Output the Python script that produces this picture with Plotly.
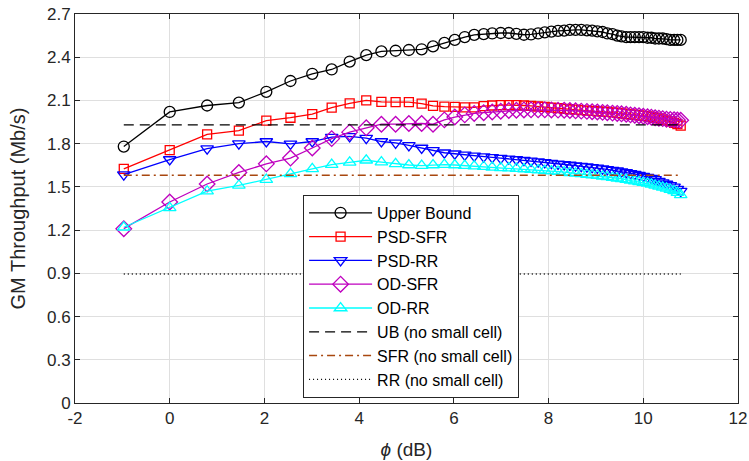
import plotly.graph_objects as go

# phi (dB) sample points
phi_db = [-0.97, 0.00, 0.79, 1.46, 2.04, 2.55, 3.01, 3.42, 3.80, 4.15,
          4.47, 4.77, 5.05, 5.32, 5.56, 5.80, 6.02, 6.23, 6.43, 6.63,
          6.81, 6.99, 7.16, 7.32, 7.48, 7.63, 7.78, 7.92, 8.06, 8.20,
          8.33, 8.45, 8.57, 8.69, 8.81, 8.92, 9.03, 9.14, 9.24, 9.35,
          9.45, 9.54, 9.64, 9.73, 9.82, 9.91, 10.00, 10.09, 10.17, 10.25,
          10.33, 10.41, 10.49, 10.57, 10.65, 10.72, 10.79]

upper_bound = [1.78, 2.02, 2.065, 2.085, 2.16, 2.235, 2.285, 2.315, 2.37, 2.415,
               2.44, 2.445, 2.45, 2.455, 2.475, 2.50, 2.52, 2.54, 2.555, 2.56,
               2.565, 2.568, 2.568, 2.562, 2.556, 2.558, 2.565, 2.572, 2.578, 2.583,
               2.585, 2.59, 2.59, 2.59, 2.587, 2.585, 2.58, 2.575, 2.565, 2.56,
               2.55, 2.545, 2.54, 2.54, 2.54, 2.54, 2.54, 2.535, 2.535, 2.53,
               2.53, 2.53, 2.525, 2.52, 2.52, 2.52, 2.52]

psd_sfr = [1.625, 1.755, 1.865, 1.89, 1.96, 1.98, 2.005, 2.05, 2.08, 2.10,
           2.09, 2.088, 2.088, 2.078, 2.062, 2.057, 2.055, 2.052, 2.052, 2.06,
           2.065, 2.068, 2.068, 2.068, 2.065, 2.062, 2.058, 2.055, 2.05, 2.046,
           2.042, 2.039, 2.036, 2.033, 2.03, 2.028, 2.025, 2.022, 2.02, 2.017,
           2.014, 2.01, 2.006, 2.003, 2.0, 1.997, 1.993, 1.99, 1.985, 1.98,
           1.975, 1.968, 1.962, 1.955, 1.945, 1.935, 1.925]

psd_rr = [1.585, 1.69, 1.765, 1.80, 1.815, 1.798, 1.815, 1.845, 1.85, 1.838,
          1.815, 1.805, 1.788, 1.77, 1.753, 1.737, 1.73, 1.722, 1.715, 1.71,
          1.705, 1.70, 1.695, 1.69, 1.685, 1.68, 1.675, 1.67, 1.665, 1.66,
          1.656, 1.652, 1.648, 1.644, 1.64, 1.636, 1.632, 1.627, 1.622, 1.617,
          1.612, 1.606, 1.60, 1.594, 1.588, 1.582, 1.575, 1.568, 1.56, 1.552,
          1.54, 1.53, 1.52, 1.51, 1.50, 1.485, 1.47]

od_sfr = [1.21, 1.395, 1.52, 1.60, 1.66, 1.70, 1.77, 1.835, 1.88, 1.91,
          1.935, 1.935, 1.94, 1.94, 1.935, 1.965, 1.985, 2.0, 2.01, 2.015,
          2.02, 2.025, 2.03, 2.032, 2.034, 2.035, 2.035, 2.035, 2.034, 2.033,
          2.032, 2.03, 2.028, 2.026, 2.024, 2.022, 2.02, 2.017, 2.015, 2.012,
          2.01, 2.007, 2.004, 2.0, 1.997, 1.994, 1.99, 1.987, 1.984, 1.98,
          1.977, 1.974, 1.97, 1.968, 1.966, 1.964, 1.962]

od_rr = [1.22, 1.355, 1.47, 1.51, 1.55, 1.59, 1.625, 1.655, 1.67, 1.685,
         1.672, 1.66, 1.652, 1.648, 1.652, 1.655, 1.652, 1.648, 1.644, 1.64,
         1.636, 1.632, 1.63, 1.627, 1.624, 1.62, 1.617, 1.613, 1.61, 1.606,
         1.602, 1.598, 1.594, 1.59, 1.586, 1.582, 1.578, 1.574, 1.57, 1.565,
         1.56, 1.555, 1.55, 1.545, 1.54, 1.535, 1.53, 1.524, 1.518, 1.511,
         1.504, 1.497, 1.49, 1.482, 1.472, 1.46, 1.445]

ub_no_small_cell = 1.93
sfr_no_small_cell = 1.58
rr_no_small_cell = 0.895

x_tick_vals = [-2, 0, 2, 4, 6, 8, 10, 12]
x_tick_text = ["-2", "0", "2", "4", "6", "8", "10", "12"]
y_tick_vals = [0, 0.3, 0.6, 0.9, 1.2, 1.5, 1.8, 2.1, 2.4, 2.7]
y_tick_text = ["0", "0.3", "0.6", "0.9", "1.2", "1.5", "1.8", "2.1", "2.4", "2.7"]

FONT = "Liberation Sans, Arial, Helvetica, sans-serif"
TXT = "#262626"

fig = go.Figure()

series = [
    ("Upper Bound", upper_bound, "#000000", "circle-open", 11),
    ("PSD-SFR", psd_sfr, "#ff0000", "square-open", 9),
    ("PSD-RR", psd_rr, "#0000ff", "triangle-down-open", 11),
    ("OD-SFR", od_sfr, "#bf00bf", "diamond-open", 12),
    ("OD-RR", od_rr, "#00ffff", "triangle-up-open", 11),
]
for name, ys, col, sym, sz in series:
    fig.add_trace(go.Scatter(
        x=phi_db, y=ys, name=name, mode="lines+markers",
        line=dict(color=col, width=1.3),
        marker=dict(symbol=sym, size=sz, color=col, line=dict(color=col, width=1.3)),
    ))

x_span = [phi_db[0], phi_db[-1]]
fig.add_trace(go.Scatter(x=x_span, y=[ub_no_small_cell] * 2, name="UB (no small cell)",
                         mode="lines", line=dict(color="#000000", width=1.3, dash="10px,6px")))
fig.add_trace(go.Scatter(x=x_span, y=[sfr_no_small_cell] * 2, name="SFR (no small cell)",
                         mode="lines", line=dict(color="#a8470f", width=1.5, dash="8px,4px,2px,4px")))
fig.add_trace(go.Scatter(x=x_span, y=[rr_no_small_cell] * 2, name="RR (no small cell)",
                         mode="lines", line=dict(color="#000000", width=1.4, dash="1px,3px")))

axis_common = dict(
    showgrid=True, gridcolor="#dfdfdf", gridwidth=1,
    showline=True, linecolor="#262626", linewidth=1, mirror="ticks",
    ticks="inside", ticklen=5, tickcolor="#262626", tickwidth=1,
    zeroline=False, tickfont=dict(family=FONT, size=17, color=TXT),
    automargin=False, tickmode="array",
)

fig.update_layout(
    width=749, height=461,
    margin=dict(l=75, r=11, t=14, b=58),
    paper_bgcolor="white", plot_bgcolor="white",
    font=dict(family=FONT, color=TXT),
    xaxis=dict(range=[-2, 12], tickvals=x_tick_vals, ticktext=x_tick_text,
               title=dict(text="<i>ϕ</i> (dB)", font=dict(family=FONT, size=19, color=TXT)),
               **axis_common),
    yaxis=dict(range=[0, 2.7], tickvals=y_tick_vals, ticktext=y_tick_text,
               title=dict(text="GM Throughput (Mb/s)", font=dict(family=FONT, size=20, color=TXT)),
               **axis_common),
    legend=dict(x=0.344, y=0.535, xanchor="left", yanchor="top",
                bgcolor="white", bordercolor="#262626", borderwidth=1,
                font=dict(family=FONT, size=16, color="#000000"),
                itemwidth=63, tracegroupgap=0),
    showlegend=True,
)

fig.write_html("out.html",
               config={"displayModeBar": False},
               post_script="document.body.style.margin='0';document.body.style.overflow='hidden';")
